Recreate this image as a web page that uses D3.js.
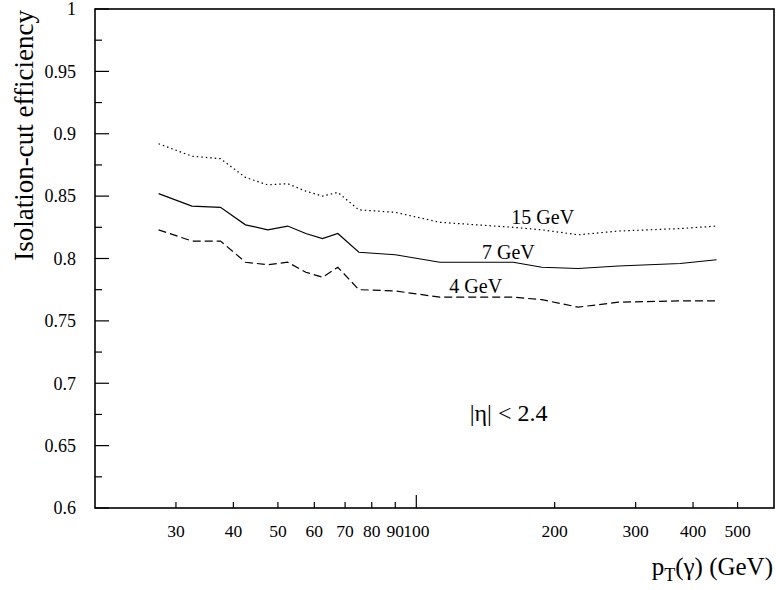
<!DOCTYPE html>
<html>
  <head>
    <meta charset="utf-8" />
    <script src="https://cdn.jsdelivr.net/npm/d3@7"></script>
    <style>
      body { margin: 0; background: #fff; }
      svg text { font-family: "Liberation Serif", "Times New Roman", Times, "DejaVu Serif", serif; fill: #000; }
      .frame { fill: none; stroke: #000; stroke-width: 1.6; }
      .tick { stroke: #000; stroke-width: 1.2; }
      .curve { fill: none; stroke: #000; stroke-width: 1.2; }
    </style>
  </head>
  <body>
    <div id="chart"></div>
    <script type="text/javascript">
      var w = 776, h = 590;
      var margin = { left: 95, right: 1, top: 9, bottom: 82 };

      // pT bin centres (GeV)
      var pt = [27.5, 32.5, 37.5, 42.5, 47.5, 52.5, 57.5, 62.5, 67.5, 75, 90, 112.5, 162.5, 187.5, 225, 275, 375, 450];

      // isolation-cut efficiency for each cone threshold
      var eff15 = [0.892, 0.882, 0.880, 0.865, 0.859, 0.860, 0.854, 0.850, 0.853, 0.839, 0.837, 0.829, 0.825, 0.823, 0.819, 0.822, 0.824, 0.826];
      var eff7  = [0.852, 0.842, 0.841, 0.827, 0.823, 0.826, 0.820, 0.816, 0.820, 0.805, 0.803, 0.797, 0.797, 0.793, 0.792, 0.794, 0.796, 0.799];
      var eff4  = [0.823, 0.814, 0.814, 0.797, 0.795, 0.797, 0.789, 0.785, 0.793, 0.775, 0.774, 0.769, 0.769, 0.767, 0.761, 0.765, 0.766, 0.766];

      var xTicks = [30, 40, 50, 60, 70, 80, 90, 100, 200, 300, 400, 500];
      var yMajor = [0.6, 0.65, 0.7, 0.75, 0.8, 0.85, 0.9, 0.95, 1];
      var yLabels = ["0.6", "0.65", "0.7", "0.75", "0.8", "0.85", "0.9", "0.95", "1"];
      var yMinor = [0.625, 0.675, 0.725, 0.775, 0.825, 0.875, 0.925, 0.975];

      var series = [
        { name: "15 GeV", values: eff15, dash: "1.5,3", lx: 161, ly: 0.8277 },
        { name: "7 GeV",  values: eff7,  dash: null,    lx: 139, ly: 0.7995 },
        { name: "4 GeV",  values: eff4,  dash: "8,4",   lx: 118, ly: 0.7720 }
      ];

      var x = d3.scaleLog().domain([20, 600]).range([margin.left, w - margin.right - 1]);
      var y = d3.scaleLinear().domain([0.6, 1]).range([h - margin.bottom, margin.top]);

      var svg = d3.select("#chart").append("svg")
        .attr("width", w)
        .attr("height", h)
        .attr("font-family", "'Liberation Serif', 'Times New Roman', serif");

      // x ticks (inside, pointing up)
      svg.selectAll("line.xt").data(xTicks).enter().append("line")
        .attr("class", "tick")
        .attr("x1", function(d) { return x(d); })
        .attr("x2", function(d) { return x(d); })
        .attr("y1", y(0.6))
        .attr("y2", function(d) { return y(0.6) - (d === 100 ? 13 : 6); });

      svg.selectAll("text.xl").data(xTicks).enter().append("text")
        .attr("x", function(d) { return x(d); })
        .attr("y", y(0.6) + 29)
        .attr("text-anchor", "middle")
        .style("font-size", "17.5px")
        .text(function(d) { return d; });

      // y ticks
      svg.selectAll("line.ymaj").data(yMajor).enter().append("line")
        .attr("class", "tick")
        .attr("x1", x(20)).attr("x2", x(20) + 14)
        .attr("y1", function(d) { return y(d); })
        .attr("y2", function(d) { return y(d); });

      svg.selectAll("line.ymin").data(yMinor).enter().append("line")
        .attr("class", "tick")
        .attr("x1", x(20)).attr("x2", x(20) + 7)
        .attr("y1", function(d) { return y(d); })
        .attr("y2", function(d) { return y(d); });

      svg.selectAll("text.yl").data(yMajor).enter().append("text")
        .attr("x", x(20) - 19)
        .attr("y", function(d) { return y(d); })
        .attr("dy", "0.35em")
        .attr("text-anchor", "end")
        .style("font-size", "18px")
        .text(function(d, i) { return yLabels[i]; });

      // frame
      svg.append("rect")
        .attr("class", "frame")
        .attr("x", x(20))
        .attr("y", y(1))
        .attr("width", x(600) - x(20))
        .attr("height", y(0.6) - y(1));

      // curves
      var line = d3.line()
        .x(function(d) { return x(d[0]); })
        .y(function(d) { return y(d[1]); });

      series.forEach(function(s) {
        svg.append("path")
          .attr("class", "curve")
          .attr("stroke-dasharray", s.dash)
          .attr("d", line(d3.zip(pt, s.values)));

        svg.append("text")
          .attr("x", x(s.lx))
          .attr("y", y(s.ly))
          .style("font-size", "20px")
          .text(s.name);
      });

      // |eta| annotation
      svg.append("text")
        .attr("x", x(130.7))
        .attr("y", y(0.6697))
        .style("font-size", "24px")
        .text("|η| < 2.4");

      // axis titles
      svg.append("text")
        .attr("transform", "translate(33," + (y(1) + 1) + ") rotate(-90)")
        .attr("text-anchor", "end")
        .style("font-size", "27px")
        .text("Isolation-cut efficiency");

      var xt = svg.append("text")
        .attr("x", w - 3)
        .attr("y", 575)
        .attr("text-anchor", "end")
        .style("font-size", "25px");
      xt.append("tspan").text("p");
      xt.append("tspan").attr("dy", 6).style("font-size", "18px").text("T");
      xt.append("tspan").attr("dy", -6).text("(γ) (GeV)");
    </script>
  </body>
</html>
